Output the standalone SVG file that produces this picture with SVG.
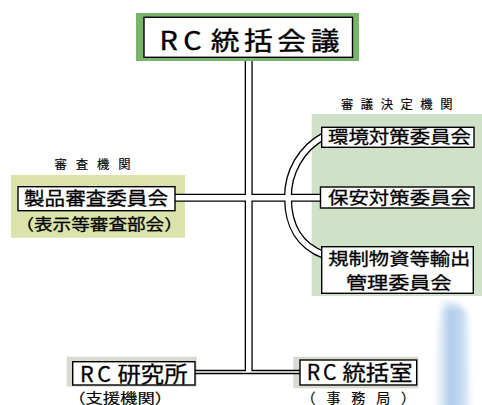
<svg xmlns="http://www.w3.org/2000/svg" width="482" height="405" viewBox="0 0 482 405">
  <defs>
    <filter id="soft" x="-60%" y="-20%" width="220%" height="140%">
      <feGaussianBlur stdDeviation="2.6"/>
    </filter>
    <linearGradient id="wash" x1="0" y1="0" x2="1" y2="0">
      <stop offset="0" stop-color="#d6e6f6" stop-opacity="0.4"/>
      <stop offset="0.4" stop-color="#aecbea"/>
      <stop offset="0.75" stop-color="#c4dbf2"/>
      <stop offset="1" stop-color="#dbe9f7" stop-opacity="0.5"/>
    </linearGradient>
    <linearGradient id="washFade" x1="0" y1="0" x2="0" y2="1">
      <stop offset="0" stop-color="#fff" stop-opacity="0"/>
      <stop offset="0.15" stop-color="#fff" stop-opacity="1"/>
      <stop offset="1" stop-color="#fff" stop-opacity="1"/>
    </linearGradient>
    <mask id="washMask">
      <rect x="420" y="295" width="62" height="115" fill="url(#washFade)"/>
    </mask>
  </defs>
  <style>
    text { font-family: "Noto Sans CJK JP", "Noto Sans", sans-serif; fill: #000; stroke: #000; stroke-width: 0.3; }
    .big { stroke-width: 0.4; }
    .small { stroke-width: 0.15; }
    .box { fill: #fff; stroke: #000; stroke-width: 1.4; }
    .rail { fill: none; stroke: #000; stroke-width: 8; }
    .gap { fill: none; stroke: #fff; stroke-width: 5.4; }
    .rail-thin { fill: none; stroke: #000; stroke-width: 4.4; }
    .gap-thin { fill: none; stroke: #fff; stroke-width: 1.6; }
  </style>

  <rect width="482" height="405" fill="#fff"/>

  <!-- pale blue wash at lower right -->
  <g mask="url(#washMask)">
    <path d="M442,300 C451,297 464,303 468,316 L471,410 L437,410 C435,370 437,328 442,300 Z" fill="url(#wash)" filter="url(#soft)"/>
  </g>

  <!-- background panels -->
  <rect x="11" y="175" width="174" height="62.7" fill="#dce3aa"/>
  <rect x="311.7" y="114" width="170.3" height="182" fill="#cfe1c6"/>
  <rect x="66.7" y="356.7" width="130" height="30" fill="#d8dbd0"/>
  <rect x="293.3" y="356.7" width="125" height="31.6" fill="#d8dbd0"/>

  <!-- double-line connectors: black rails first, white core on top -->
  <g id="connectors">
    <path class="rail" d="M248.7,58 V372"/>
    <path class="rail" d="M175,197.8 H322"/>
    <path class="rail" d="M324,136 A69,69 0 0 0 288,197.8 C288,226 300,246 324,255"/>
    <path class="rail-thin" d="M195,372 H300"/>
    <path class="gap" d="M248.7,58 V372"/>
    <path class="gap" d="M175,197.8 H322"/>
    <path class="gap" d="M324,136 A69,69 0 0 0 288,197.8 C288,226 300,246 324,255"/>
    <path class="gap-thin" d="M195,372 H300"/>
  </g>

  <g id="rc-council">
    <rect x="136" y="13" width="223" height="48" fill="#79b46b"/>
    <rect class="box" x="144" y="17.3" width="208.5" height="40"/>
    <text class="big" transform="scale(1.15,1)" y="50.2" font-size="25" x="138.6 159.4 183.2 212.2 241.1 270.2">RC統括会議</text>
  </g>

  <g id="product-review">
    <text class="small" x="54.5" y="168.5" font-size="12.3" textLength="76" lengthAdjust="spacing">審査機関</text>
    <rect class="box" x="18" y="186.7" width="157" height="24"/>
    <text x="24" y="205.4" font-size="18.5" textLength="144" lengthAdjust="spacingAndGlyphs">製品審査委員会</text>
    <text x="15.4" y="229.6" font-size="15.5" textLength="167.4" lengthAdjust="spacingAndGlyphs">（表示等審査部会）</text>
  </g>

  <text class="small" x="341" y="109" font-size="12.3" textLength="111.5" lengthAdjust="spacing">審議決定機関</text>

  <g id="environment">
    <rect class="box" x="321.7" y="127.3" width="152.3" height="20"/>
    <text x="328" y="143.1" font-size="16.7" textLength="143" lengthAdjust="spacingAndGlyphs">環境対策委員会</text>
  </g>

  <g id="security">
    <rect class="box" x="320.5" y="187" width="153.5" height="21"/>
    <text x="328" y="203.8" font-size="16.7" textLength="143" lengthAdjust="spacingAndGlyphs">保安対策委員会</text>
  </g>

  <g id="export-control">
    <rect class="box" x="321.7" y="246.7" width="151.6" height="46.6"/>
    <text x="328.3" y="264.8" font-size="17.5" textLength="142" lengthAdjust="spacingAndGlyphs">規制物資等輸出</text>
    <text x="346" y="288.8" font-size="17.5" textLength="105.5" lengthAdjust="spacingAndGlyphs">管理委員会</text>
  </g>

  <g id="rc-lab">
    <rect class="box" x="72.7" y="361.7" width="122.3" height="23.3"/>
    <text x="80" y="381.8" font-size="21.5" letter-spacing="3.7">RC</text>
    <text x="117.5" y="381.8" font-size="21.5" textLength="70" lengthAdjust="spacingAndGlyphs">研究所</text>
    <text class="small" x="68.2" y="402.5" font-size="14" textLength="103.8" lengthAdjust="spacingAndGlyphs">（支援機関）</text>
  </g>

  <g id="rc-office">
    <rect class="box" x="300" y="360" width="116.7" height="25"/>
    <text x="306.7" y="380.2" font-size="21" letter-spacing="3">RC</text>
    <text x="342.5" y="380.2" font-size="21" textLength="70" lengthAdjust="spacingAndGlyphs">統括室</text>
    <text class="small" x="301.6" y="402.5" font-size="14" textLength="113.4" lengthAdjust="spacing">（事務局）</text>
  </g>
</svg>
